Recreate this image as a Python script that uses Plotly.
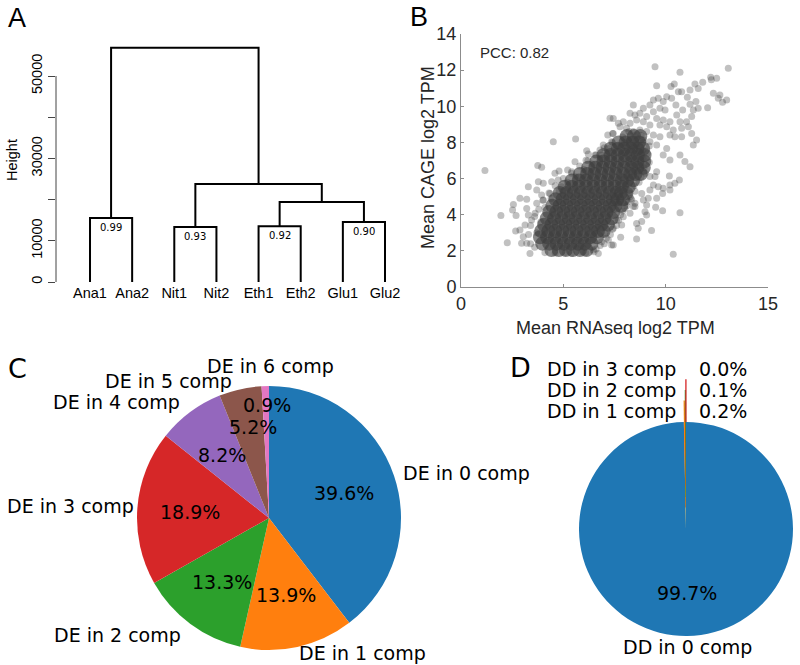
import math
import plotly.graph_objects as go

W, H = 800, 665


def px(x):
    return x / W


def py(y):
    return 1 - y / H


# ---------------- Panel A: dendrogram ----------------
leaf_labels = ["Ana1", "Ana2", "Nit1", "Nit2", "Eth1", "Eth2", "Glu1", "Glu2"]
# negative = leaf (1-based position), positive = earlier merge (1-based)
merge_left = [-1, -3, -5, -7, 3, 2, 1]
merge_right = [-2, -4, -6, -8, 4, 5, 6]
merge_height = [15530, 13350, 13510, 14560, 19420, 23790, 56870]
merge_support = ["0.99", "0.93", "0.92", "0.90", "", "", ""]
height_ticks = [0, 10000, 20000, 30000, 40000, 50000]
height_tick_text = ["0", "10000", "", "30000", "", "50000"]

# ---------------- Panel B: scatter ----------------
pcc_text = "PCC: 0.82"
# dense core, read row by row (CAGE value -> RNAseq values)
core_cage_rows = [2.05, 2.4, 2.75, 3.1, 3.45, 3.8, 4.15, 4.5, 4.85, 5.2,
                  5.55, 5.9, 6.25, 6.6, 6.95, 7.3, 7.65, 8.0, 8.35]
core_rna_rows = [
    [4.42, 4.78, 5.12, 5.47, 5.81, 6.13],
    [3.97, 4.31, 4.66, 5.02, 5.36, 5.71, 6.04, 6.38],
    [3.86, 4.21, 4.57, 4.9, 5.26, 5.61, 5.94, 6.31, 6.63],
    [3.92, 4.27, 4.61, 4.96, 5.31, 5.66, 6.01, 6.36, 6.69, 6.97],
    [4.06, 4.41, 4.76, 5.11, 5.45, 5.81, 6.16, 6.51, 6.86, 7.18],
    [4.19, 4.55, 4.91, 5.26, 5.6, 5.96, 6.31, 6.66, 7.01, 7.36],
    [4.31, 4.66, 5.01, 5.36, 5.71, 6.06, 6.41, 6.76, 7.11, 7.44],
    [4.46, 4.81, 5.16, 5.51, 5.86, 6.21, 6.56, 6.91, 7.26, 7.55, 7.83],
    [4.62, 4.96, 5.31, 5.66, 6.01, 6.36, 6.71, 7.06, 7.41, 7.64, 7.92],
    [4.82, 5.16, 5.51, 5.86, 6.21, 6.56, 6.91, 7.26, 7.59, 7.81, 8.08],
    [5.06, 5.41, 5.76, 6.11, 6.46, 6.81, 7.16, 7.51, 7.86, 8.2],
    [5.41, 5.76, 6.11, 6.46, 6.81, 7.16, 7.51, 7.86, 8.12, 8.41],
    [5.81, 6.16, 6.51, 6.86, 7.21, 7.56, 7.91, 8.26, 8.52, 8.78],
    [6.21, 6.56, 6.91, 7.26, 7.61, 7.96, 8.31, 8.61, 8.93],
    [6.61, 6.96, 7.31, 7.66, 8.01, 8.36, 8.62, 8.95],
    [6.96, 7.31, 7.66, 8.01, 8.31, 8.64, 8.97],
    [7.31, 7.66, 7.96, 8.3, 8.62, 8.9],
    [7.7, 8.04, 8.38, 8.7],
    [8.1, 8.45, 8.76],
]
# individual (sparser) points
rna_points = [
    7.28, 7.17, 7.41, 4.51, 5.6, 1.17, 3.75, 3.94, 5.57, 6.14, 6.22, 4.79, 5.21, 5.41, 6.11,
    6.79, 6.95, 6.55, 6.87, 7.2, 7.36,
    1.95, 2.26, 2.56, 2.52, 2.88, 2.69, 3.21, 3.29, 2.67, 2.88, 3.13, 3.04, 2.96, 3.21, 3.37,
    3.7, 3.78, 4.02, 4.43, 4.35, 3.94, 4.02, 4.75, 4.92, 4.59, 3.7, 3.62, 3.21, 3.29, 3.45,
    6.71, 6.46, 6.87, 7.2, 7.36, 7.04, 7.44,
    10.18, 10.67, 10.45, 10.21, 10.21, 9.88, 9.85, 9.64, 9.56, 9.51, 9.85, 10.7, 9.31, 10.37,
    8.83, 8.58, 8.66, 8.58, 7.85, 7.8, 7.44, 8.99, 9.07, 9.07, 9.15, 8.91, 8.83, 9.23, 9.4,
    9.48, 9.56, 9.23, 8.26, 8.42, 8.5, 8.01, 8.17, 8.26, 7.93, 7.6, 8.34, 8.5,
    9.48, 10.7, 13.06, 9.56, 10.26, 10.42, 11.43, 11.81, 12.2, 12.23, 12.49, 11.59, 11.19,
    10.62, 10.78, 12.33, 12.65, 12.57, 12.78, 12.98, 12.05, 11.59, 11.48, 11.06, 11.19, 10.5,
    10.83, 10.54, 11.27, 11.35, 9.4, 9.64, 9.88, 10.05, 10.29, 9.23, 8.91, 8.42, 8.26, 8.5,
    8.74, 9.07, 9.4, 9.72, 9.97, 9.56, 9.88, 10.21, 10.7, 11.02, 10.78, 11.11, 11.27, 10.37,
    10.05, 9.72, 9.23, 8.91, 8.58, 8.26, 7.93, 7.77, 8.09, 8.42, 8.74, 9.07, 9.4, 9.72,
    10.21, 10.45, 10.78, 11.51, 11.35, 10.7, 10.94, 11.19, 10.21, 9.88, 10.05, 9.56, 9.23,
    8.91, 7.44, 7.69, 7.44,
    3.4, 3.3, 3.4, 3.6, 3.8, 4.0, 4.3, 4.6, 5.0, 5.4, 5.8, 6.2, 6.6, 7.0, 7.4, 7.9,
    6.5, 6.8, 7.1, 7.4, 7.7, 7.9, 8.0, 8.2, 8.45, 8.8, 8.95, 8.9, 8.7, 8.4, 8.2,
    4.1, 4.6, 5.1, 5.4, 5.9, 6.1,
    3.6, 3.7, 3.9, 4.1, 4.4, 4.8, 5.2, 5.6, 6.0, 6.4, 6.8, 7.2, 7.6, 8.0, 8.5, 8.9, 9.1,
    9.2, 9.0, 8.7, 8.5, 8.3, 8.1, 7.8, 7.6, 7.3, 7.0, 6.6,
    8.0, 8.3, 8.6, 8.9, 9.2, 8.8, 8.2,
]
cage_points = [
    9.34, 8.41, 8.5, 8.04, 8.19, 6.44, 6.73, 6.62, 6.93, 7.54, 7.36, 6.42, 6.47, 6.38, 7.01,
    7.58, 7.86, 7.3, 7.3, 7.67, 8.04,
    3.95, 2.45, 4.57, 4.26, 4.91, 3.95, 4.85, 5.55, 3.1, 3.15, 3.43, 2.78, 2.42, 2.42, 1.86,
    5.37, 5.83, 5.74, 5.83, 5.18, 5.09, 4.81, 5.92, 5.55, 6.29, 4.63, 4.08, 4.35, 3.98, 3.71,
    1.86, 2.05, 2.51, 2.6, 2.32, 2.97, 3.25,
    6.14, 5.92, 5.74, 5.65, 5.37, 5.46, 5.18, 5.55, 4.91, 4.41, 4.22, 4.11, 3.12, 1.81,
    3.62, 3.52, 3.25, 2.66, 3.43, 2.75, 2.33, 4.17, 3.98, 4.54, 4.91, 4.81, 5.18, 5.37, 5.65,
    6.11, 6.38, 6.11, 4.08, 4.45, 4.63, 4.35, 4.72, 5.0, 3.89, 3.71, 4.81, 4.45,
    12.19, 11.88, 12.1, 11.14, 11.09, 11.23, 11.23, 11.33, 11.6, 11.47, 11.55, 10.99, 10.9,
    10.81, 10.81, 10.72, 10.63, 10.44, 10.22, 10.35, 9.92, 9.89, 10.26, 10.5, 10.11, 10.07,
    9.8, 9.52, 9.43, 9.8, 10.35, 10.44, 10.26, 10.53, 10.44, 10.07, 9.89, 10.07, 9.61, 9.52,
    9.61, 9.43, 9.7, 9.89, 9.8, 9.33, 9.24, 9.15, 9.15, 9.15, 8.78, 8.87, 8.5, 8.69,
    8.87, 8.97, 8.97, 9.15, 9.24, 9.06, 9.15, 8.87, 8.78, 8.6, 8.69, 8.6, 8.41, 8.32,
    8.41, 8.32, 8.32, 8.14, 7.86, 7.3, 6.94, 6.66, 7.03, 7.3, 7.67, 7.86, 8.04,
    8.14, 9.33, 9.06, 8.5,
    2.4, 2.9, 3.4, 3.9, 4.3, 4.8, 5.2, 5.6, 6.0, 6.3, 6.7, 7.0, 7.3, 7.7, 8.0, 8.3,
    1.95, 2.3, 2.7, 3.2, 3.7, 4.2, 4.7, 5.2, 5.6, 6.1, 6.6, 7.1, 7.5, 7.8, 8.1,
    1.9, 1.88, 1.9, 1.86, 1.95, 1.9,
    2.2, 3.0, 3.6, 4.4, 4.9, 5.3, 5.8, 6.1, 6.5, 6.8, 7.1, 7.4, 7.8, 8.0, 8.4, 8.0, 7.4,
    6.9, 6.3, 5.8, 5.3, 4.9, 4.5, 4.0, 3.4, 2.9, 2.4, 2.1,
    7.4, 7.6, 7.9, 7.6, 7.8, 8.4, 8.6,
]
rna_ticks = [0, 5, 10, 15]
cage_ticks = [0, 2, 4, 6, 8, 10, 12, 14]
x_title_b = "Mean RNAseq log2 TPM"
y_title_b = "Mean CAGE log2 TPM"

# ---------------- Panel C / D: pies ----------------
c_labels = ["DE in 0 comp", "DE in 1 comp", "DE in 2 comp", "DE in 3 comp",
            "DE in 4 comp", "DE in 5 comp", "DE in 6 comp"]
c_values = [39.6, 13.9, 13.3, 18.9, 8.2, 5.2, 0.9]
d_labels = ["DD in 0 comp", "DD in 1 comp", "DD in 2 comp", "DD in 3 comp"]
d_values = [99.7, 0.2, 0.1, 0.02]
tab10 = ["#1f77b4", "#ff7f0e", "#2ca02c", "#d62728", "#9467bd", "#8c564b", "#e377c2"]

fig = go.Figure()

# ---- dendrogram traces ----
mid_x = []
dx, dy = [], []


def node(ref):
    if ref < 0:
        return -ref, 0.0
    return mid_x[ref - 1], merge_height[ref - 1]


for l, r, h in zip(merge_left, merge_right, merge_height):
    xl, hl = node(l)
    xr, hr = node(r)
    dx += [xl, xl, xr, xr, None]
    dy += [hl, h, h, hr, None]
    mid_x.append((xl + xr) / 2)

fig.add_trace(go.Scatter(x=dx, y=dy, mode="lines", line=dict(color="black", width=2),
                         xaxis="x", yaxis="y", hoverinfo="skip", showlegend=False))

arial14 = dict(family="Liberation Sans", size=14.5, color="black")
arial18 = dict(family="Liberation Sans", size=18, color="#262626")

annotations = []
for i, s in enumerate(merge_support):
    if s:
        annotations.append(dict(x=mid_x[i], y=merge_height[i], xref="x", yref="y", text=s,
                                showarrow=False, yanchor="top", yshift=-2,
                                font=dict(family="DejaVu Sans", size=10, color="black")))
annotations.append(dict(x=px(12), y=py(160), xref="paper", yref="paper", text="Height",
                        textangle=-90, showarrow=False, xanchor="center", yanchor="middle",
                        font=arial14))

# ---- scatter traces ----
core_x, core_y = [], []
for yv, xs in zip(core_cage_rows, core_rna_rows):
    for xv in xs:
        core_x.append(xv)
        core_y.append(yv)

fig.add_trace(go.Scatter(x=rna_points, y=cage_points, mode="markers", xaxis="x2", yaxis="y2",
                         marker=dict(size=7, color="rgba(62,62,62,0.32)", line=dict(width=0)),
                         hoverinfo="skip", showlegend=False))
fig.add_trace(go.Scatter(x=core_x, y=core_y, mode="markers", xaxis="x2", yaxis="y2",
                         marker=dict(size=14, color="rgba(62,62,62,0.62)", line=dict(width=0)),
                         hoverinfo="skip", showlegend=False))
annotations.append(dict(x=px(478), y=py(53), xref="paper", yref="paper", text=pcc_text,
                        showarrow=False, xanchor="left", yanchor="middle",
                        font=dict(family="Liberation Sans", size=15, color="#262626")))
annotations.append(dict(x=px(615), y=py(328), xref="paper", yref="paper", text=x_title_b,
                        showarrow=False, xanchor="center", yanchor="middle", font=arial18))
annotations.append(dict(x=px(428), y=py(158), xref="paper", yref="paper", text=y_title_b,
                        textangle=-90, showarrow=False, xanchor="center", yanchor="middle",
                        font=arial18))

# ---- pie C ----
c_cx, c_cy, c_r = 269, 518, 132
fig.add_trace(go.Pie(values=c_values, labels=c_labels, sort=False, direction="clockwise",
                     rotation=0, textinfo="none", hoverinfo="skip", showlegend=False,
                     marker=dict(colors=tab10[:len(c_values)], line=dict(width=0)),
                     domain=dict(x=[px(c_cx - c_r), px(c_cx + c_r)],
                                 y=[py(c_cy + c_r), py(c_cy - c_r)])))

pie_font = dict(family="DejaVu Sans", size=19, color="black")


def slice_dirs(values):
    total = sum(values)
    cum = 0.0
    out = []
    for v in values:
        mid = (cum + v / 2) / total
        cum += v
        ang = math.radians(90 - 360 * mid)
        out.append((math.cos(ang), math.sin(ang), 100 * v / total))
    return out


c_label_nudge = {0: (-6, 2), 1: (-3, -7), 3: (12, -1), 5: (-3, 5), 6: (6, -7)}
c_pct_nudge = {5: (1, -14), 6: (0, -34)}
for i, (cx_, sy_, pct) in enumerate(slice_dirs(c_values)):
    lx = c_cx + 1.1 * c_r * cx_
    ly = c_cy - 1.1 * c_r * sy_
    ndx, ndy = c_label_nudge.get(i, (0, 0))
    ha = "center" if abs(cx_) < 0.1 else ("left" if cx_ > 0 else "right")
    annotations.append(dict(x=px(lx + ndx), y=py(ly + ndy), xref="paper", yref="paper",
                            text=c_labels[i], showarrow=False, xanchor=ha, yanchor="middle",
                            font=pie_font))
    tx = c_cx + 0.6 * c_r * cx_
    ty = c_cy - 0.6 * c_r * sy_
    ndx, ndy = c_pct_nudge.get(i, (0, 0))
    annotations.append(dict(x=px(tx + ndx), y=py(ty + ndy), xref="paper", yref="paper",
                            text=f"{pct:.1f}%", showarrow=False, xanchor="center",
                            yanchor="middle", font=pie_font))

# ---- pie D ----
d_cx, d_cy, d_r = 686, 529, 107
d_explode = [0, 0.2, 0.3, 0.4]
d_label_dist = [1.1, 1.1, 1.3, 1.5]
fig.add_trace(go.Pie(values=d_values, labels=d_labels, sort=False, direction="clockwise",
                     rotation=0, textinfo="none", hoverinfo="skip", showlegend=False,
                     marker=dict(colors=tab10[:len(d_values)], line=dict(width=0)),
                     domain=dict(x=[px(d_cx - d_r), px(d_cx + d_r)],
                                 y=[py(d_cy + d_r), py(d_cy - d_r)])))

# exploded slivers drawn on an overlay axis in pie-radius units
d_top_extra = 0.45
for i, (cx_, sy_, pct) in enumerate(slice_dirs(d_values)):
    if d_explode[i] > 0:
        e = d_explode[i]
        fig.add_trace(go.Scatter(x=[e * cx_, (1 + e) * cx_], y=[e * sy_, (1 + e) * sy_],
                                 mode="lines", xaxis="x3", yaxis="y3",
                                 line=dict(color=tab10[i], width=1.3),
                                 hoverinfo="skip", showlegend=False))
    if i == 0:
        annotations.append(dict(x=px(d_cx + 1.1 * d_r * cx_), y=py(d_cy - 1.1 * d_r * sy_),
                                xref="paper", yref="paper", text=d_labels[i], showarrow=False,
                                xanchor="center", yanchor="middle", font=pie_font))
        annotations.append(dict(x=px(d_cx + 0.6 * d_r * cx_), y=py(d_cy - 0.6 * d_r * sy_),
                                xref="paper", yref="paper", text=f"{pct:.1f}%",
                                showarrow=False, xanchor="center", yanchor="middle",
                                font=pie_font))
    else:
        yy = d_cy - d_label_dist[i] * d_r
        annotations.append(dict(x=px(d_cx - 8), y=py(yy), xref="paper", yref="paper",
                                text=d_labels[i], showarrow=False, xanchor="right",
                                yanchor="middle", font=pie_font))
        annotations.append(dict(x=px(d_cx + 11), y=py(yy), xref="paper", yref="paper",
                                text=f"{pct:.1f}%", showarrow=False, xanchor="left",
                                yanchor="middle", font=pie_font))

# ---- panel letters ----
for letter, lx, ly, fam in [("A", 6, 18.5, "Liberation Sans"), ("B", 408, 17, "Liberation Sans"),
                            ("C", 6, 368, "DejaVu Sans"), ("D", 508, 367.5, "DejaVu Sans")]:
    annotations.append(dict(x=px(lx), y=py(ly), xref="paper", yref="paper", text=letter,
                            showarrow=False, xanchor="left", yanchor="middle",
                            font=dict(family=fam, size=27, color="black")))

shapes = [dict(type="line", xref="paper", yref="y", x0=px(56), x1=px(56),
               y0=height_ticks[0], y1=height_ticks[-1], line=dict(color="#444444", width=1))]

fig.update_layout(
    template="none",
    width=W, height=H,
    margin=dict(l=0, r=0, t=0, b=0),
    paper_bgcolor="white", plot_bgcolor="rgba(0,0,0,0)",
    showlegend=False,
    font=dict(family="Liberation Sans", color="black"),
    xaxis=dict(domain=[px(56), px(400)], range=[0.193, 8.356], anchor="y",
               tickvals=list(range(1, len(leaf_labels) + 1)), ticktext=leaf_labels,
               showline=False, ticks="", showgrid=False, zeroline=False, tickfont=arial14,
               automargin=False, fixedrange=True),
    yaxis=dict(domain=[py(282), py(40)], range=[0, 58740], anchor="x",
               tickvals=height_ticks, ticktext=height_tick_text, ticks="outside", ticklen=7,
               tickcolor="#444444", tickangle=-90, showgrid=False, zeroline=False,
               showline=False, tickfont=arial14, automargin=False, fixedrange=True),
    xaxis2=dict(domain=[px(461), px(768)], range=[0, 15], anchor="y2", tickvals=rna_ticks,
                showline=True, linecolor="#8c8c8c", linewidth=1, ticks="inside", ticklen=3,
                tickcolor="#8c8c8c", showgrid=False, zeroline=False, tickfont=arial18,
                automargin=False, fixedrange=True),
    yaxis2=dict(domain=[py(287), py(34)], range=[0, 14], anchor="x2", tickvals=cage_ticks,
                showline=True, linecolor="#8c8c8c", linewidth=1, ticks="inside", ticklen=3,
                tickcolor="#8c8c8c", showgrid=False, zeroline=False, tickfont=arial18,
                automargin=False, fixedrange=True),
    xaxis3=dict(domain=[px(d_cx - d_r), px(d_cx + d_r)], range=[-1, 1], anchor="y3",
                visible=False, fixedrange=True),
    yaxis3=dict(domain=[py(d_cy + d_r), py(d_cy - d_r * (1 + d_top_extra))],
                range=[-1, 1 + d_top_extra], anchor="x3", visible=False, fixedrange=True),
    annotations=annotations,
    shapes=shapes,
)

fig.write_html("out.html", config={"displayModeBar": False},
               post_script="document.body.style.margin='0px';")
